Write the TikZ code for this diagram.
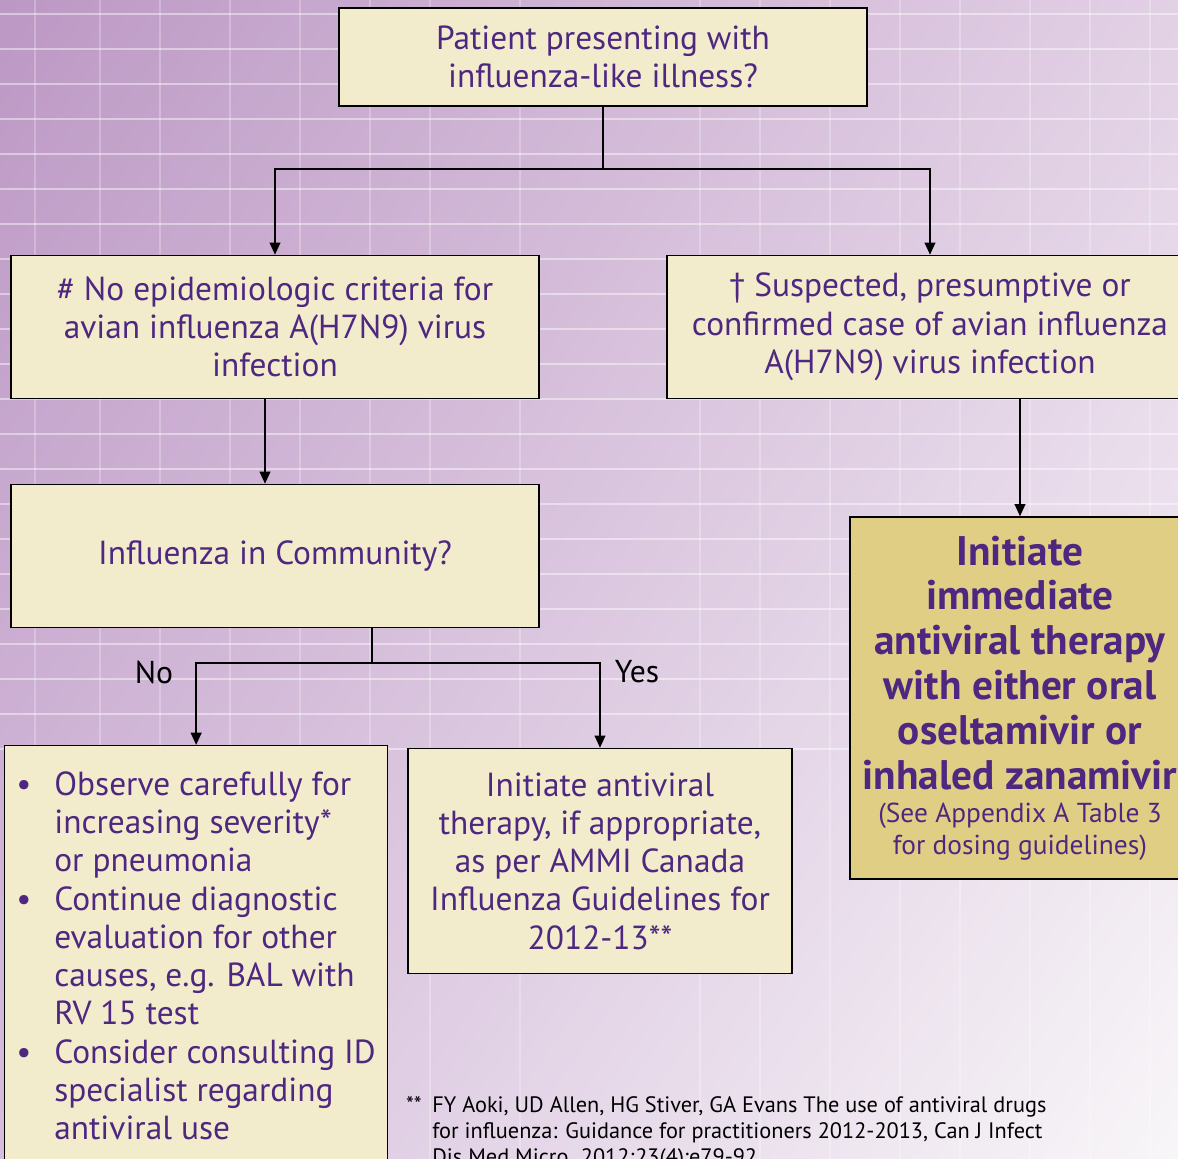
\documentclass[tikz,border=0pt]{standalone}
\usepackage{fontspec}
\setmainfont{PT Sans}
\usepackage{tikz}
\usetikzlibrary{calc, positioning, arrows.meta, shadings}
\definecolor{boxfill}{RGB}{243,236,204}
\definecolor{actfill}{RGB}{224,206,132}
\definecolor{txtpurple}{RGB}{78,40,128}
\definecolor{bgA}{RGB}{188,152,196}
\definecolor{bgB}{RGB}{226,208,229}
\definecolor{bgC}{RGB}{214,190,220}
\definecolor{bgD}{RGB}{248,246,248}
\newcommand{\pxu}{0.569pt}
\tikzset{
    panel/.style={rectangle, draw=black, line width=0.8pt, fill=boxfill, align=center, text=txtpurple, inner sep=0pt, font=\fontsize{19}{21.8}\selectfont},
    action/.style={panel, fill=actfill, font=\fontsize{23.5}{25.5}\selectfont\bfseries},
    bodytext/.style={text=txtpurple, align=left, inner sep=0pt, font=\fontsize{19}{21.8}\selectfont},
    answer/.style={text=black, font=\fontsize{18}{21.8}\selectfont},
    ref/.style={text=black, align=left, inner sep=0pt, font=\fontsize{12.7}{14.8}\selectfont},
    line/.style={-{Triangle[length=7pt, width=6pt]}, line width=1.3pt},
    connect/.style={line width=1.3pt}
}
\begin{document}
\begin{tikzpicture}[x=0.02cm, y=-0.02cm]

    \useasboundingbox (0,0) rectangle (1178,1159);
    \clip (0,0) rectangle (1178,1159);

    % --- BACKGROUND ---
    \shade[upper left=bgA, upper right=bgB, lower left=bgC, lower right=bgD] (0,0) rectangle (1178,1159);
    \foreach \gy in {14,49,...,750}
        \draw[white, opacity=0.45, line width=1pt] (0,\gy) -- (1178,\gy);
    \foreach \gx in {35,100,160,230,300,370,430,520,700,760,830,900,960,1030,1090,1150}
        \draw[white, opacity=0.25, line width=1.5pt] (\gx,0) -- (\gx,1159);

    % --- TOP QUESTION ---
    \node[panel, minimum width=528*\pxu, minimum height=98*\pxu] (patient) at (603,57) {Patient presenting with\\influenza-like illness?};

    % --- SECOND ROW ---
    \node[panel, minimum width=528*\pxu, minimum height=143*\pxu] (nocrit) at (275,327) {\# No epidemiologic criteria for\\avian influenza A(H7N9) virus\\infection};
    \node[panel, minimum width=526*\pxu, minimum height=143*\pxu] (suspect) at (930,327) {† Suspected, presumptive or\\confirmed case of avian influenza\\A(H7N9) virus infection};

    % Fork from the top question
    \coordinate (fork) at ($(patient.south)+(0,62)$);
    \draw[connect] (patient.south) -- (fork);
    \draw[line] (fork) -| (nocrit.north);
    \draw[line] (fork) -| (suspect.north);

    % --- LEFT BRANCH ---
    \node[panel, minimum width=528*\pxu, minimum height=143*\pxu] (community) at (275,556) {Influenza in Community?};
    \draw[line] ($(nocrit.south)+(-10,0)$) -- ($(community.north)+(-10,0)$);

    % No / Yes outcomes
    \node[panel, minimum width=383*\pxu, minimum height=440*\pxu, anchor=north west] (observe) at (4,745) {};
    \node[bodytext, anchor=north west] (observeText) at (54,771) {%
        \llap{•\hspace{13pt}}Observe carefully for\\
        increasing severity*\\
        or pneumonia\\
        \llap{•\hspace{13pt}}Continue diagnostic\\
        evaluation for other\\
        causes, e.g. BAL with\\
        RV 15 test\\
        \llap{•\hspace{13pt}}Consider consulting ID\\
        specialist regarding\\
        antiviral use};
    \node[panel, minimum width=384*\pxu, minimum height=225*\pxu] (therapy) at (600,861) {Initiate antiviral\\therapy, if appropriate,\\as per AMMI Canada\\Influenza Guidelines for\\2012-13**};

    \coordinate (split) at ($(community.south)+(97,35)$);
    \draw[connect] ($(community.south)+(97,0)$) -- (split);
    \draw[line] (split) -| (observe.north);
    \draw[line] (split) -| (therapy.north);
    \node[answer] (no) at (154,672) {No};
    \node[answer] (yes) at (637,672) {Yes};

    % --- RIGHT BRANCH ---
    \node[action, minimum width=340*\pxu, minimum height=362*\pxu] (treat) at (1020,698) {Initiate\\immediate\\antiviral therapy\\with either oral\\oseltamivir or\\inhaled zanamivir\\[-6.5pt]
        {\fontsize{15.6}{18}\selectfont\mdseries (See Appendix A Table 3}\\[-7.5pt]
        {\fontsize{15.6}{18}\selectfont\mdseries for dosing guidelines)}};
    \draw[line] (suspect.south -| treat.north) -- (treat.north);

    % Reference
    \node[ref, anchor=north west] (aoki) at (432,1096) {%
        \llap{**\hspace{6pt}}FY Aoki, UD Allen, HG Stiver, GA Evans The use of antiviral drugs\\
        for influenza: Guidance for practitioners 2012-2013, Can J Infect\\
        Dis Med Micro. 2012;23(4):e79-92};

\end{tikzpicture}
\end{document}
